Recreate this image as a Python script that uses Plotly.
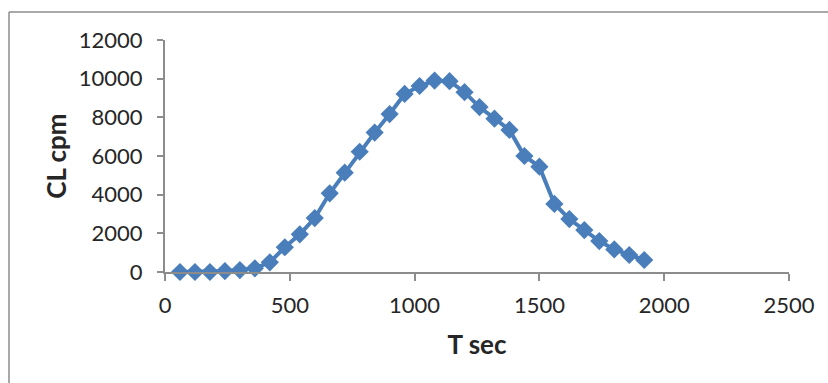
import plotly.graph_objects as go

t_sec = [60, 120, 180, 240, 300, 360, 420, 480, 540, 600, 660, 720, 780, 840, 900, 960,
         1020, 1080, 1140, 1200, 1260, 1320, 1380, 1440, 1500, 1560, 1620, 1680, 1740, 1800, 1860, 1920]
cl_cpm = [0, 0, 0, 50, 100, 190, 500, 1280, 1950, 2790, 4070, 5140, 6220, 7210, 8170, 9210,
          9620, 9900, 9870, 9300, 8530, 7930, 7350, 6000, 5450, 3520, 2740, 2170, 1600, 1170, 880, 620]

x_ticks = [0, 500, 1000, 1500, 2000, 2500]
y_ticks = [0, 2000, 4000, 6000, 8000, 10000, 12000]

blue = "#4A7EBB"
axis_gray = "#8C8C8C"
text_col = "#262626"
font_fam = "Lato, Open Sans, sans-serif"

fig = go.Figure()
fig.add_trace(go.Scatter(
    x=t_sec, y=cl_cpm, mode="lines+markers",
    line=dict(color=blue, width=4),
    marker=dict(symbol="diamond", size=14, color=blue),
    cliponaxis=False, showlegend=False,
))

fig.update_layout(
    width=828, height=383,
    margin=dict(l=165, r=39, t=40, b=111),
    paper_bgcolor="white", plot_bgcolor="white",
    font=dict(family=font_fam, color=text_col, size=22),
    xaxis=dict(
        range=[0, 2500], tickvals=x_ticks, ticktext=[str(v) for v in x_ticks],
        showgrid=False, zeroline=False, showline=True, linecolor=axis_gray, linewidth=2,
        ticks="outside", ticklen=7, tickcolor=axis_gray, tickwidth=1.5,
        ticklabelstandoff=6,
        tickfont=dict(size=22, family=font_fam, color=text_col),
        title=dict(text="<b>T sec</b>", font=dict(size=26, family=font_fam, color=text_col), standoff=18),
    ),
    yaxis=dict(
        range=[0, 12000], tickvals=y_ticks, ticktext=[str(v) for v in y_ticks],
        showgrid=False, zeroline=False, showline=True, linecolor=axis_gray, linewidth=2,
        ticks="outside", ticklen=6, tickcolor=axis_gray, tickwidth=1.5,
        ticklabelstandoff=10,
        tickfont=dict(size=22, family=font_fam, color=text_col),
        title=dict(text="<b>CL cpm</b>", font=dict(size=26, family=font_fam, color=text_col), standoff=5),
    ),
    shapes=[
        dict(type="line", xref="paper", yref="paper", x0=-0.25, x1=1.2, y0=1.1207, y1=1.1207,
             line=dict(color=axis_gray, width=1.5)),
        dict(type="line", xref="paper", yref="paper", x0=-0.25, x1=-0.25, y0=-0.6, y1=1.1207,
             line=dict(color=axis_gray, width=1.5)),
    ],
)

fig.write_html("out.html")
